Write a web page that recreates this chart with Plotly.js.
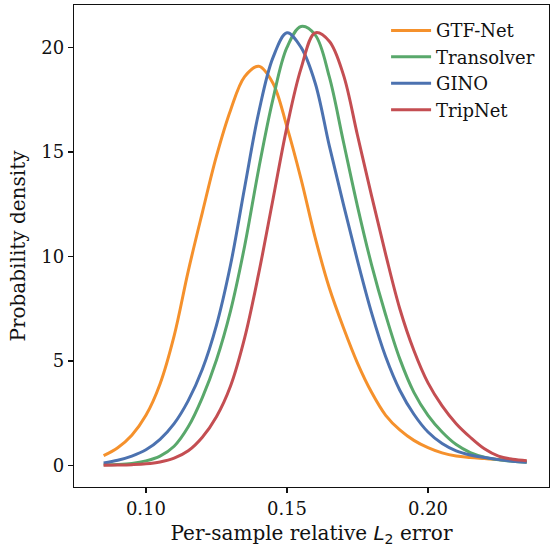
<!DOCTYPE html>
<html>
<head>
<meta charset="utf-8">
<script src="https://cdn.plot.ly/plotly-3.0.1.min.js"></script>
<style>html,body{margin:0;padding:0;background:#fff;}#chart{width:551px;height:551px;}</style>
</head>
<body>
<div id="chart"></div>
<script>
const seriesNames = ["GTF-Net", "Transolver", "GINO", "TripNet"];

const errorGrid = [0.085, 0.090, 0.095, 0.100, 0.105, 0.110, 0.115, 0.120, 0.125, 0.130, 0.135, 0.140, 0.145, 0.150, 0.155, 0.160,
                   0.165, 0.170, 0.175, 0.180, 0.185, 0.190, 0.195, 0.200, 0.205, 0.210, 0.215, 0.220, 0.225, 0.230, 0.235];

const gtfDensity   = [0.47, 0.85, 1.45, 2.4, 3.9, 6.2, 9.3, 12.1, 14.8, 17.0, 18.6, 19.1, 18.3, 16.2, 13.7, 10.9,
                      8.5, 6.6, 4.9, 3.5, 2.4, 1.7, 1.2, 0.85, 0.6, 0.45, 0.38, 0.33, 0.28, 0.24, 0.2];
const transDensity = [0.03, 0.05, 0.1, 0.22, 0.45, 0.92, 1.85, 3.25, 5.05, 7.4, 10.5, 14.2, 17.5, 20.0, 21.0, 20.6,
                      18.6, 15.5, 12.4, 9.6, 7.2, 5.1, 3.5, 2.4, 1.6, 1.0, 0.62, 0.4, 0.27, 0.2, 0.15];
const ginoDensity  = [0.12, 0.25, 0.45, 0.75, 1.25, 2.0, 3.1, 4.6, 6.7, 9.6, 13.3, 16.9, 19.5, 20.7, 20.0, 18.3,
                      15.3, 12.5, 9.8, 7.3, 5.2, 3.6, 2.45, 1.6, 1.05, 0.7, 0.5, 0.38, 0.28, 0.2, 0.15];
const tripDensity  = [0.01, 0.02, 0.04, 0.08, 0.17, 0.35, 0.7, 1.35, 2.33, 3.8, 6.1, 9.2, 12.7, 16.2, 19.0, 20.7,
                      20.3, 18.7, 15.8, 12.9, 10.1, 7.5, 5.5, 3.95, 2.85, 2.0, 1.35, 0.8, 0.45, 0.3, 0.23];

const xTickVals = [0.10, 0.15, 0.20];
const xTickText = ["0.10", "0.15", "0.20"];
const yTickVals = [0, 5, 10, 15, 20];
const yTickText = ["0", "5", "10", "15", "20"];

const colors = ["#f5912c", "#59a86b", "#4c72b0", "#c44e52"];
const ys = [gtfDensity, transDensity, ginoDensity, tripDensity];

const font = "DejaVu Serif, serif";
const ink = "#111";
const traces = seriesNames.map((n, i) => ({
  type: "scatter", mode: "lines", name: n,
  x: errorGrid, y: ys[i],
  line: {color: colors[i], width: 3, shape: "spline", smoothing: 1.0},
  hoverinfo: "skip"
}));

const layout = {
  width: 551, height: 551,
  margin: {l: 74, r: 2, t: 5, b: 64},
  paper_bgcolor: "#fff", plot_bgcolor: "#fff",
  font: {family: font, size: 18, color: ink},
  showlegend: true,
  legend: {x: 0.657, y: 0.985, xanchor: "left", yanchor: "top", bgcolor: "rgba(0,0,0,0)", borderwidth: 0,
           itemwidth: 40,
           font: {family: font, size: 18, color: ink}, tracegroupgap: 0},
  xaxis: {
    range: [0.0745, 0.2429], tickvals: xTickVals, ticktext: xTickText,
    showgrid: false, zeroline: false, showline: true, mirror: true, linecolor: ink, linewidth: 1.25,
    ticks: "outside", ticklen: 5, tickwidth: 1.25, tickcolor: ink,
    tickfont: {family: font, size: 18, color: ink},
    title: {text: "Per-sample relative <span style=\"font-family:DejaVu Sans\"><i>L</i><sub>2</sub></span> error", font: {family: font, size: 20, color: ink}, standoff: 8}
  },
  yaxis: {
    range: [-1.03, 22.03], tickvals: yTickVals, ticktext: yTickText,
    showgrid: false, zeroline: false, showline: true, mirror: true, linecolor: ink, linewidth: 1.25,
    ticks: "outside", ticklen: 5, tickwidth: 1.25, tickcolor: ink,
    tickfont: {family: font, size: 18, color: ink},
    title: {text: "Probability density", font: {family: font, size: 20, color: ink}, standoff: 10}
  }
};

Plotly.newPlot("chart", traces, layout, {staticPlot: true, displayModeBar: false});
</script>
</body>
</html>
